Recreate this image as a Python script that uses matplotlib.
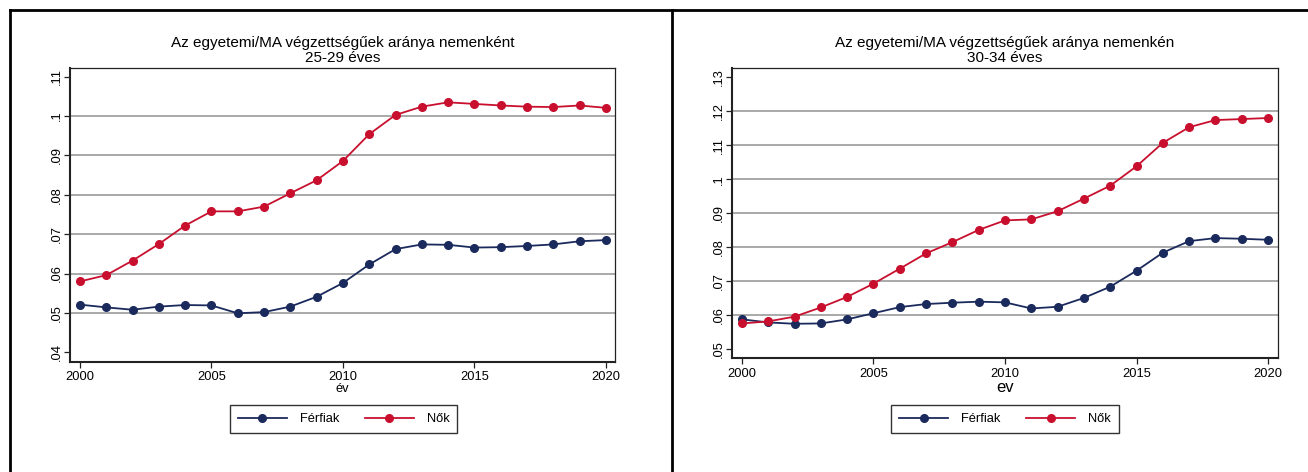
import matplotlib
matplotlib.use("Agg")
import matplotlib.pyplot as plt
from matplotlib.lines import Line2D

plt.rcParams["font.family"] = ["Liberation Sans", "DejaVu Sans"]

years = list(range(2000, 2021))

# 25-29 eves
ferfiak_2529 = [0.0521, 0.0514, 0.0508, 0.0516, 0.0520, 0.0519, 0.0499, 0.0502, 0.0516, 0.0541,
                0.0576, 0.0623, 0.0662, 0.0674, 0.0673, 0.0666, 0.0667, 0.0670, 0.0674, 0.0682, 0.0685]
nok_2529 = [0.0580, 0.0596, 0.0633, 0.0675, 0.0722, 0.0758, 0.0758, 0.0770, 0.0804, 0.0837,
            0.0886, 0.0954, 0.1003, 0.1024, 0.1035, 0.1031, 0.1027, 0.1024, 0.1023, 0.1027, 0.1021]

# 30-34 eves
ferfiak_3034 = [0.0588, 0.0579, 0.0575, 0.0576, 0.0588, 0.0606, 0.0624, 0.0633, 0.0637, 0.0640,
                0.0638, 0.0620, 0.0625, 0.0651, 0.0684, 0.0731, 0.0784, 0.0818, 0.0827, 0.0825, 0.0822]
nok_3034 = [0.0576, 0.0582, 0.0596, 0.0623, 0.0654, 0.0693, 0.0737, 0.0782, 0.0815, 0.0851,
            0.0879, 0.0882, 0.0906, 0.0943, 0.0981, 0.1038, 0.1107, 0.1153, 0.1174, 0.1177, 0.1180]

yticks_left = [0.04, 0.05, 0.06, 0.07, 0.08, 0.09, 0.10, 0.11]
ylabels_left = [".04", ".05", ".06", ".07", ".08", ".09", ".1", ".11"]
yticks_right = [0.05, 0.06, 0.07, 0.08, 0.09, 0.10, 0.11, 0.12, 0.13]
ylabels_right = [".05", ".06", ".07", ".08", ".09", ".1", ".11", ".12", ".13"]
xticks = [2000, 2005, 2010, 2015, 2020]

NAVY = "#1b2a5c"
RED = "#c8102e"
W, H = 1308, 472


def px_axes(fig, left, right, top, bottom):
    return fig.add_axes([left / W, (H - bottom) / H, (right - left) / W, (bottom - top) / H])


def draw_panel(ax, men, women, yticks, ylabels, ylim, title, xlabel, xlabel_size, legend_x):
    for t in yticks[1:-1]:
        ax.axhline(t, color="#a3a3a3", lw=1.3, zorder=1)
    ax.plot(years, men, color=NAVY, lw=1.3, marker="o", ms=5.5, label="Férfiak", zorder=3)
    ax.plot(years, women, color=RED, lw=1.3, marker="o", ms=5.5, label="Nők", zorder=3)
    ax.set_xlim(1999.63, 2020.36)
    ax.set_ylim(*ylim)
    ax.set_xticks(xticks)
    ax.set_yticks(yticks)
    ax.set_yticklabels(ylabels, rotation=90, va="center")
    ax.tick_params(axis="both", length=4.5, width=0.9, labelsize=9.3, color="#222222")
    ax.tick_params(axis="x", pad=2.5)
    ax.tick_params(axis="y", pad=1)
    for s in ["left", "bottom"]:
        ax.spines[s].set_linewidth(1.5)
        ax.spines[s].set_color("#222222")
    for s in ["top", "right"]:
        ax.spines[s].set_linewidth(0.9)
        ax.spines[s].set_color("#222222")
    ax.set_title(title, fontsize=11, pad=4, linespacing=1.1)
    ax.set_xlabel(xlabel, fontsize=xlabel_size, labelpad=0)
    leg = ax.legend(loc="center", bbox_to_anchor=(legend_x / W, (H - 419) / H),
                    bbox_transform=ax.figure.transFigure, ncol=2, frameon=True,
                    fancybox=False, edgecolor="black", fontsize=9.3, handlelength=3.8,
                    handletextpad=1.0, columnspacing=2.0, borderpad=0.6, markerscale=1.0)
    leg.get_frame().set_linewidth(1.0)


fig = plt.figure(figsize=(W / 100, H / 100), dpi=100)

ax1 = px_axes(fig, 70.3, 615.3, 67.7, 361.7)
draw_panel(ax1, ferfiak_2529, nok_2529, yticks_left, ylabels_left, (0.0376, 0.1123),
           "Az egyetemi/MA végzettségűek aránya nemenként\n25-29 éves", "év", 9.3, 343.5)

ax2 = px_axes(fig, 732.2, 1277.5, 67.7, 358.3)
draw_panel(ax2, ferfiak_3034, nok_3034, yticks_right, ylabels_right, (0.04735, 0.1328),
           "Az egyetemi/MA végzettségűek aránya nemenkén\n30-34 éves", "ev", 12, 1005)

# outer frame lines
fig.add_artist(Line2D([10 / W, 1], [1 - 10 / H, 1 - 10 / H], color="black", lw=2))
fig.add_artist(Line2D([10 / W, 10 / W], [0, 1 - 10 / H], color="black", lw=2))
fig.add_artist(Line2D([672 / W, 672 / W], [0, 1 - 10 / H], color="black", lw=2))

fig.savefig("out.png", dpi=100)
